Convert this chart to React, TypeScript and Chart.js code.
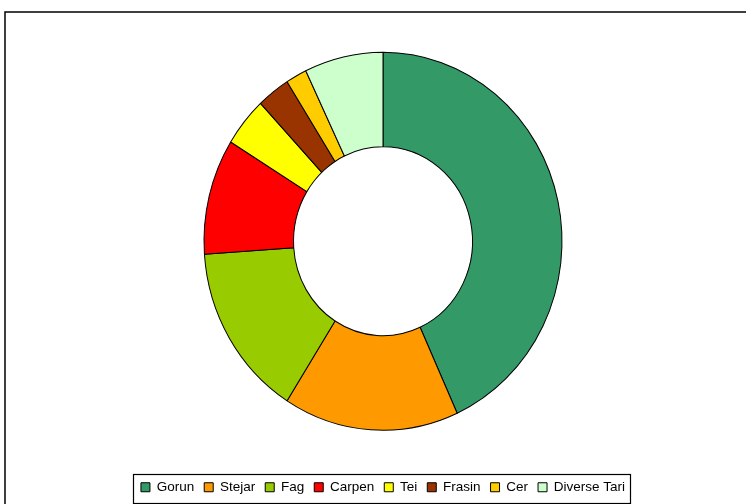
import React, { useEffect, useRef } from "react";
import { Chart, registerables } from "chart.js";

Chart.register(...registerables);

const categories = ["Gorun", "Stejar", "Fag", "Carpen", "Tei", "Frasin", "Cer", "Diverse Tari"];
const shares = [43.2, 15.8, 14.9, 9.9, 4.2, 3.0, 1.9, 7.1];
const sliceColors = ["#339966", "#FF9900", "#99CC00", "#FF0000", "#FFFF00", "#993300", "#FFCC00", "#CCFFCC"];

const STRETCH_Y = 189 / 179;

const framePlugin = {
  id: "frame",
  beforeDraw(chart: any) {
    const ctx = chart.ctx;
    ctx.save();
    ctx.fillStyle = "#ffffff";
    ctx.fillRect(0, 0, chart.width, chart.height);
    ctx.strokeStyle = "#000000";
    ctx.lineWidth = 1.5;
    ctx.strokeRect(5, 12, 900, 700);
    ctx.restore();
  },
  afterDraw(chart: any) {
    const lg = chart.legend;
    if (!lg || !lg.legendHitBoxes || !lg.legendHitBoxes.length) return;
    const hb = lg.legendHitBoxes;
    const first = hb[0];
    const last = hb[hb.length - 1];
    const left = first.left - 8;
    const right = last.left + last.width + 5;
    const top = first.top - 7;
    const bottom = first.top + first.height + 8;
    const ctx = chart.ctx;
    ctx.save();
    ctx.strokeStyle = "#000000";
    ctx.lineWidth = 1.2;
    ctx.strokeRect(Math.round(left) + 0.5, Math.round(top) + 0.5, Math.round(right - left), Math.round(bottom - top));
    ctx.restore();
  },
};

const stretchPlugin = {
  id: "stretch",
  beforeDatasetsDraw(chart: any) {
    const arc = chart.getDatasetMeta(0).data[0] as any;
    const ctx = chart.ctx;
    ctx.save();
    if (arc) {
      ctx.translate(arc.x, arc.y);
      ctx.scale(1, STRETCH_Y);
      ctx.translate(-arc.x, -arc.y);
    }
  },
  afterDatasetsDraw(chart: any) {
    chart.ctx.restore();
  },
};

export default function App() {
  const ref = useRef<HTMLCanvasElement | null>(null);
  useEffect(() => {
    if (!ref.current) return;
    const chart = new Chart(ref.current, {
      type: "doughnut",
      data: {
        labels: categories,
        datasets: [
          {
            data: shares,
            backgroundColor: sliceColors,
            borderColor: "#000000",
            borderWidth: 1,
            hoverOffset: 0,
          },
        ],
      },
      options: {
        responsive: true,
        maintainAspectRatio: false,
        animation: false,
        radius: 179,
        cutout: "50%",
        layout: { padding: { left: 20, right: 0, top: 12, bottom: 0 } },
        plugins: {
          tooltip: { enabled: false },
          legend: {
            display: true,
            position: "bottom",
            labels: {
              boxWidth: 9,
              boxHeight: 9,
              padding: 10,
              color: "#000000",
              font: { family: "'Liberation Sans', Arial, sans-serif", size: 13.5 },
            },
          },
        },
      } as any,
      plugins: [framePlugin, stretchPlugin],
    });
    return () => chart.destroy();
  }, []);
  return (
    <div style={{ position: "fixed", left: 0, top: 0, width: 746, height: 504, background: "#fff" }}>
      <canvas ref={ref} />
    </div>
  );
}
